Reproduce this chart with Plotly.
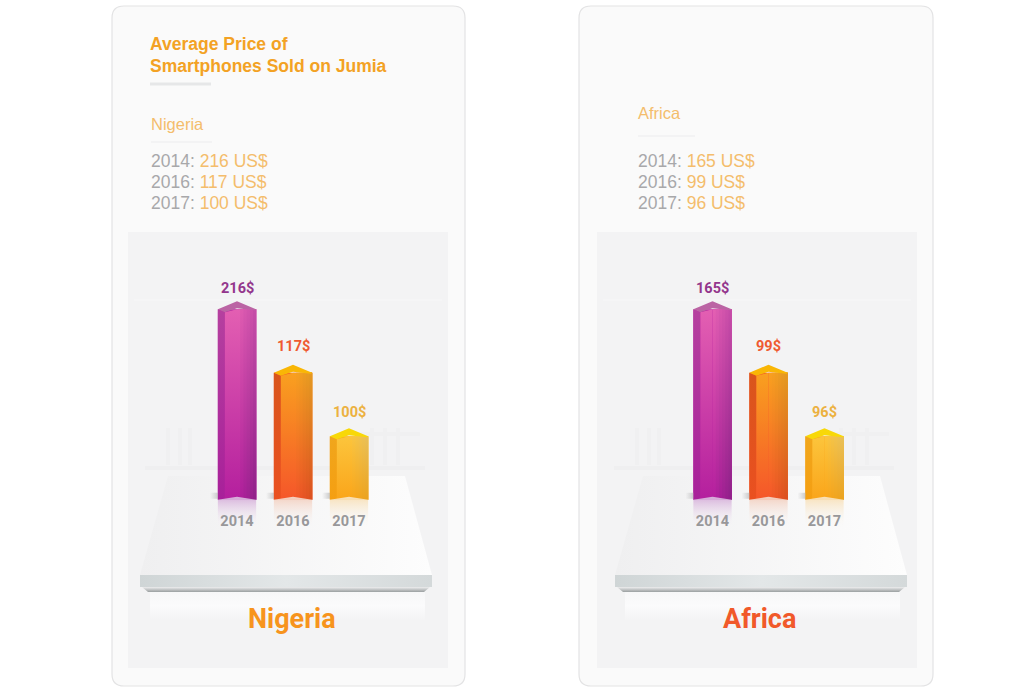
import numpy as np
import plotly.graph_objects as go

# Data
years = ["2014", "2016", "2017"]
nigeria_prices = [216, 117, 100]
africa_prices = [165, 99, 96]
# the columns are pictograms, same height in both panels whatever the price
column_heights = [189, 126, 63]

ORANGE = "#f3a224"
SOFT = "#f4bd6c"
GREY = "#a8a8aa"
LABEL_COLORS = ["#93368c", "#ef5a30", "#ecb140"]

# (side top, side bottom, front top, front bottom, right top, right bottom, cap)
FACES = [
    ("#b5409f", "#a8209a", "#e35fb2", "#b41f9e", "#c64ca8", "#91208a", "#bb64a4"),
    ("#d9551c", "#ea5020", "#f9a01f", "#f5562a", "#e49a22", "#dc5020", "#f9b605"),
    ("#f0a61c", "#f59f12", "#fcc53c", "#faa51a", "#e9c058", "#eba31f", "#f8d808"),
]
REFLECT = ["rgba(214,176,218,1)", "rgba(243,208,192,1)", "rgba(248,224,184,1)"]
FADE = "rgba(248,248,248,0)"

COL_W = 0.342
SIDE_W = 0.125
LABEL_LIFT = [2, 8, 5]  # gap between cap and value label differs per column


def poly(xs, ys, c0, c1, axes=("x", "y"), kind="vertical", mid=None):
    # vertical gradients run from the lowest data value (c0) to the highest (c1)
    scale = [[0, c0], [1, c1]] if mid is None else [[0, c0], [0.5, mid], [1, c1]]
    return go.Scatter(
        x=list(xs), y=list(ys), xaxis=axes[0], yaxis=axes[1],
        mode="lines", line=dict(width=0), fill="toself",
        fillgradient=dict(type=kind, colorscale=scale),
        hoverinfo="skip", showlegend=False,
    )


def mix(c0, c1, t):
    a = [int(c0[k:k + 2], 16) for k in (1, 3, 5)]
    b = [int(c1[k:k + 2], 16) for k in (1, 3, 5)]
    return "#" + "".join(f"{round(p + (q - p) * t):02x}" for p, q in zip(a, b))


fig = go.Figure()


# Platform, drawn on the page axes (pixel units)
def add_platform(dx):
    fig.add_trace(poly([168 + dx, 405 + dx, 432 + dx, 140 + dx], [476, 476, 575, 575],
                       "#efeff0", "#fdfdfd", kind="horizontal"))
    fig.add_trace(poly([150 + dx, 425 + dx, 425 + dx, 150 + dx], [592, 592, 620, 620],
                       "#f4f4f5", "#f7f7f8", mid="#fbfbfc"))
    fig.add_trace(poly([140 + dx, 432 + dx, 432 + dx, 140 + dx], [575, 575, 587, 587],
                       "#cfd5d6", "#d4d9da", kind="horizontal", mid="#e3e7e8"))
    fig.add_trace(poly([142 + dx, 430 + dx, 424 + dx, 148 + dx], [587, 587, 592, 592],
                       "#9a9fa0", "#eeeeef"))


# Columns: real bars underneath, shaded faces on top of them
def add_columns(prices, xa, ya):
    axes = (xa, ya)
    pos = np.arange(len(years))
    fig.add_trace(go.Bar(
        x=pos, y=column_heights, width=2 * COL_W, xaxis=xa, yaxis=ya,
        marker=dict(color=[f[3] for f in FACES], line_width=0),
        hoverinfo="skip", showlegend=False,
    ))
    for i, h in enumerate(column_heights):
        f = FACES[i]
        l, r = i - COL_W, i + COL_W
        fig.add_trace(poly([l - 0.14, l + 0.02, l + 0.02, l - 0.14], [1, 1, 7, 7],
                           "rgba(200,200,201,0)", "#c4c4c5", axes, kind="horizontal"))
        fig.add_trace(poly([l, l + SIDE_W, l + SIDE_W, l], [h, h - 3, 0, 0], f[1], f[0], axes))
        fig.add_trace(poly([l + SIDE_W, i, i, l + SIDE_W], [h - 3, h, 0, 0], f[3], f[2], axes))
        # right half darkens towards the edge; each strip runs to the edge so no seams show
        edges = np.linspace(i, r, 7)
        for k in range(6):
            t = k / 5
            fig.add_trace(poly([edges[k], r, r, edges[k]], [h, h, 0, 0],
                               mix(f[3], f[5], t), mix(f[2], f[4], t), axes))
        fig.add_trace(poly([l, i, r, r - 0.02, i, l + SIDE_W], [h, h + 8, h, h - 1, h + 1, h - 3],
                           f[6], f[6], axes))
        # reflection also cuts the notch out of the column foot
        fig.add_trace(poly([l, i, r, r, l], [0, 3, 0, -28, -28], FADE, REFLECT[i], axes))
        fig.add_annotation(x=i, y=h + 8, xref=xa, yref=ya, text=f"<b>{prices[i]}$</b>",
                           showarrow=False, yanchor="bottom", yshift=LABEL_LIFT[i],
                           font=dict(family="Roboto", size=14.5, color=LABEL_COLORS[i]))


add_platform(0)
add_platform(475)
add_columns(nigeria_prices, "x2", "y2")
add_columns(africa_prices, "x3", "y3")


def rounded(x0, y0, x1, y1, r):
    return (f"M{x0+r},{y0} L{x1-r},{y0} Q{x1},{y0} {x1},{y0+r} L{x1},{y1-r} Q{x1},{y1} {x1-r},{y1} "
            f"L{x0+r},{y1} Q{x0},{y1} {x0},{y1-r} L{x0},{y0+r} Q{x0},{y0} {x0+r},{y0} Z")


shapes = []
for x0, x1 in [(112, 465), (579, 933)]:
    shapes.append(dict(type="path", path=rounded(x0, 6, x1, 686, 12), xref="x", yref="y", layer="below",
                       fillcolor="#fafafa", line=dict(color="#e3e3e4", width=1.2)))
for x0, x1 in [(128, 448), (597, 917)]:
    shapes.append(dict(type="rect", x0=x0, x1=x1, y0=232, y1=668, xref="x", yref="y", layer="below",
                       fillcolor="#f3f3f4", line_width=0))
    # faint band at the top of the panel and ghost shopping cart behind the columns
    dx = x0 - 128
    shapes.append(dict(type="line", x0=x0 + 6, x1=x1 - 6, y0=300, y1=300, xref="x", yref="y", layer="below",
                       line=dict(color="#f5f5f6", width=2)))
    shapes.append(dict(type="line", x0=145 + dx, x1=425 + dx, y0=468, y1=468, xref="x", yref="y", layer="below",
                       line=dict(color="#efeff0", width=4)))
    for gx in [168, 180, 190, 372, 385, 398]:
        shapes.append(dict(type="line", x0=gx + dx, x1=gx + dx, y0=428, y1=465, xref="x", yref="y", layer="below",
                           line=dict(color="#f0f0f1", width=4)))
    shapes.append(dict(type="line", x0=360 + dx, x1=420 + dx, y0=434, y1=434, xref="x", yref="y", layer="below",
                       line=dict(color="#f0f0f1", width=4)))
for x0, x1, y, w, c in [(150, 211, 84, 3, "#e6e7e8"), (151, 212, 142, 1.2, "#ececed"), (638, 695, 136, 1.2, "#ececed")]:
    shapes.append(dict(type="line", x0=x0, x1=x1, y0=y, y1=y, xref="x", yref="y", layer="below",
                       line=dict(color=c, width=w)))


def note(x, y, text, size, color=GREY, family="Liberation Sans", anchor="left"):
    fig.add_annotation(x=x - (2 if anchor == "left" else 0), y=y, xref="x", yref="y", text=text,
                       showarrow=False, xanchor=anchor,
                       yanchor="middle", font=dict(family=family, size=size, color=color))


note(150, 44, "<b>Average Price of</b>", 17.5, ORANGE)
note(150, 66, "<b>Smartphones Sold on Jumia</b>", 17.5, ORANGE)
note(151, 124, "Nigeria", 16.5, SOFT)
note(638, 113, "Africa", 16.5, SOFT)
for i, yr in enumerate(years):
    yy = 161 + 21 * i
    note(151, yy, f'{yr}: <span style="color:{SOFT}">{nigeria_prices[i]} US$</span>', 17.5)
    note(638, yy, f'{yr}: <span style="color:{SOFT}">{africa_prices[i]} US$</span>', 17.5)
note(291.5, 619, "<b>Nigeria</b>", 27, "#f7941d", "Roboto", "center")
note(759, 619, "<b>Africa</b>", 27, "#f1592a", "Roboto", "center")

tick_axis = dict(
    range=[-1.5, 3.5], tickmode="array", tickvals=[0, 1, 2], ticktext=years,
    ticklabelposition="inside", ticks="", showgrid=False, zeroline=False, showline=False,
    tickfont=dict(family="Roboto", size=14.5, color="#98989a", weight="bold"),
)
val_axis = dict(range=[-32, 228], visible=False, showgrid=False, zeroline=False,
                domain=[1 - 532 / 698, 1 - 270 / 698])
page_axis = dict(visible=False, showgrid=False, zeroline=False)

fig.update_layout(
    width=1023, height=698, margin=dict(l=0, r=0, t=0, b=0),
    paper_bgcolor="#ffffff", plot_bgcolor="rgba(0,0,0,0)",
    showlegend=False, shapes=shapes,
    xaxis=dict(page_axis, range=[0, 1023], domain=[0, 1]),
    yaxis=dict(page_axis, range=[698, 0], domain=[0, 1]),
    xaxis2=dict(tick_axis, domain=[153 / 1023, 433 / 1023], anchor="y2"),
    yaxis2=dict(val_axis, anchor="x2"),
    xaxis3=dict(tick_axis, domain=[628.5 / 1023, 908.5 / 1023], anchor="y3"),
    yaxis3=dict(val_axis, anchor="x3"),
)

# page default body margin would push everything 8px down and right
fig.write_html("out.html", config=dict(displayModeBar=False),
               post_script="document.body.style.margin='0';")
